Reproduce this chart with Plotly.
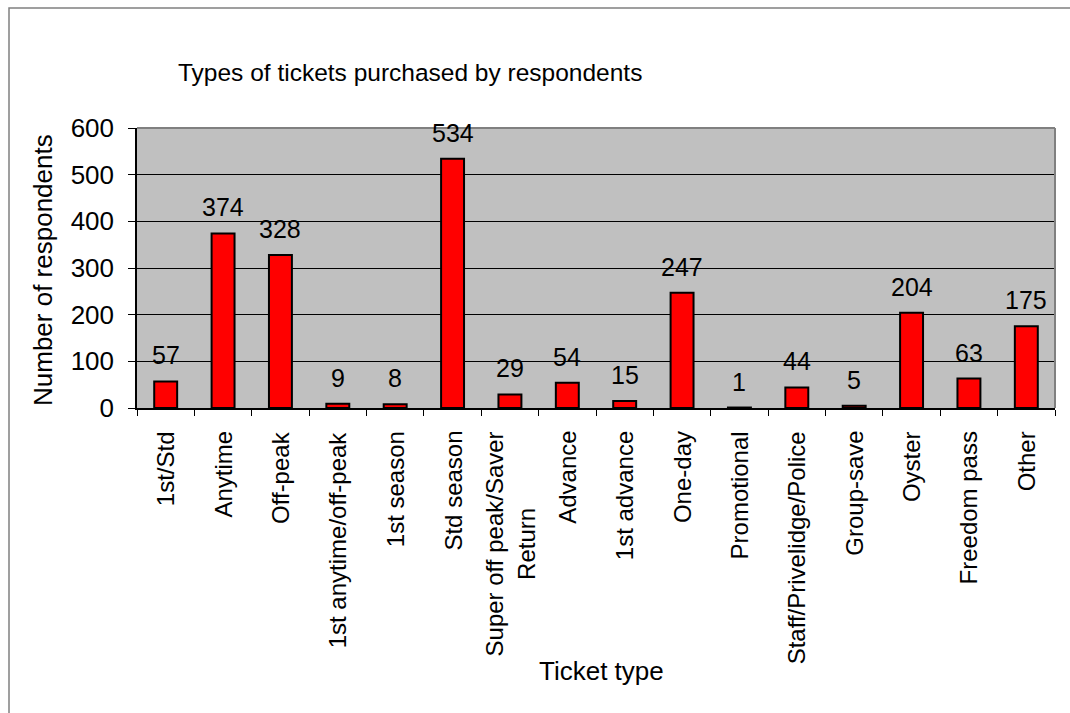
import plotly.graph_objects as go

# Ticket types and number of respondents who bought each
ticket_types = [
    "1st/Std", "Anytime", "Off-peak", "1st anytime/off-peak", "1st season",
    "Std season", "Super off peak/Saver<br>Return", "Advance", "1st advance",
    "One-day", "Promotional", "Staff/Privelidge/Police", "Group-save",
    "Oyster", "Freedom pass", "Other",
]
respondents = [57, 374, 328, 9, 8, 534, 29, 54, 15, 247, 1, 44, 5, 204, 63, 175]
y_ticks = [0, 100, 200, 300, 400, 500, 600]

FONT = "Arial, Liberation Sans, sans-serif"
W, H = 1070, 713
L, R, T, B = 137, 15, 128, 305
PW, PH = W - L - R, H - T - B


def px_x(px):
    """Horizontal pixel position -> paper coordinate."""
    return (px - L) / PW


def px_y(py):
    """Vertical pixel position (from top) -> paper coordinate."""
    return (H - B - py) / PH


fig = go.Figure(
    go.Bar(
        x=ticket_types,
        y=respondents,
        width=0.4,
        marker=dict(color="#FF0000", line=dict(color="#000000", width=2)),
        hoverinfo="x+y",
    )
)

# value labels above each bar
for cat, val in zip(ticket_types, respondents):
    fig.add_annotation(
        x=cat, y=val, text=str(val), showarrow=False,
        yanchor="bottom", yshift=10,
        font=dict(family=FONT, size=25, color="#000000"),
    )

# vertical category labels under the axis (lines centred on each other)
for cat in ticket_types:
    fig.add_annotation(
        x=cat, xref="x", y=0, yref="paper", text=cat, showarrow=False,
        textangle=-90, align="center", xanchor="center", yanchor="top",
        yshift=-21,
        font=dict(family=FONT, size=24, color="#000000"),
    )

# axis titles
fig.add_annotation(
    x=px_x(601), y=px_y(671), xref="paper", yref="paper",
    text="Ticket type", showarrow=False, xanchor="center", yanchor="middle",
    font=dict(family=FONT, size=26, color="#000000"),
)
fig.add_annotation(
    x=px_x(43), y=px_y(270), xref="paper", yref="paper",
    text="Number of respondents", showarrow=False, textangle=-90,
    xanchor="center", yanchor="middle",
    font=dict(family=FONT, size=26, color="#000000"),
)

# outer chart frame
fig.add_shape(
    type="rect", xref="paper", yref="paper",
    x0=px_x(9), x1=px_x(W + 20), y0=px_y(H + 20), y1=px_y(8),
    line=dict(color="#808080", width=1.5), fillcolor="rgba(0,0,0,0)",
    layer="below",
)

# gray border along the top and right edges of the plot area
fig.add_shape(type="line", xref="paper", yref="paper", x0=0, x1=1, y0=1, y1=1,
              line=dict(color="#808080", width=2))
fig.add_shape(type="line", xref="paper", yref="paper", x0=1, x1=1, y0=0, y1=1,
              line=dict(color="#808080", width=2))

fig.update_layout(
    width=W, height=H,
    margin=dict(l=L, r=R, t=T, b=B, autoexpand=False),
    paper_bgcolor="#FFFFFF",
    plot_bgcolor="#C0C0C0",
    showlegend=False,
    font=dict(family=FONT, color="#000000"),
    title=dict(
        text="Types of tickets purchased by respondents",
        xref="container", yref="container",
        x=178 / W, xanchor="left",
        y=1 - 72 / H, yanchor="middle",
        font=dict(family=FONT, size=24.5, color="#000000"),
    ),
    xaxis=dict(
        type="category",
        tickson="boundaries",
        ticks="outside", ticklen=6, tickcolor="#000000", tickwidth=1,
        showline=True, linecolor="#000000", linewidth=1.5,
        showgrid=False,
        showticklabels=False,
    ),
    yaxis=dict(
        range=[0, 600],
        tickvals=y_ticks,
        ticks="outside", ticklen=7, tickcolor="#000000", tickwidth=1,
        showline=True, linecolor="#000000", linewidth=1.5,
        showgrid=True, gridcolor="#000000", gridwidth=1,
        zeroline=False,
        tickfont=dict(family=FONT, size=26, color="#000000"),
        ticklabelstandoff=9,
    ),
)

fig.write_html("out.html")
